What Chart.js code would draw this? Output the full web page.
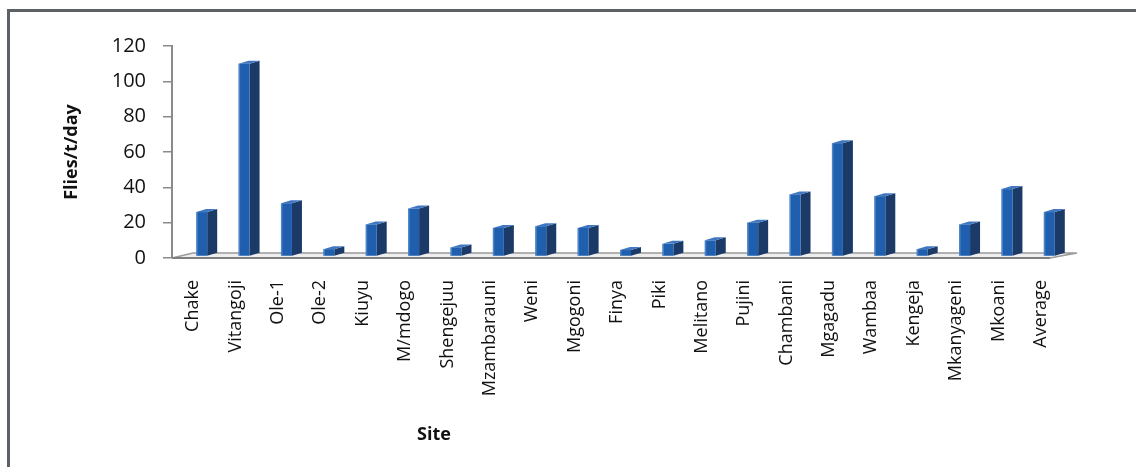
<!DOCTYPE html>
<html>
<head>
<meta charset="utf-8">
<script src="https://cdn.jsdelivr.net/npm/chart.js@4.4.1/dist/chart.umd.min.js"></script>
<style>
  html, body { margin: 0; padding: 0; background: #ffffff; }
  #wrap { position: relative; width: 1136px; height: 467px; overflow: hidden; }
  #frame { position: absolute; left: 7px; top: 9px; width: 1200px; height: 500px;
           border-left: 3px solid #5c6166; border-top: 3px solid #5c6166; box-sizing: border-box; }
  #c { position: absolute; left: 0; top: 0; }
</style>
</head>
<body>
<div id="wrap">
  <div id="frame"></div>
  <canvas id="c" width="1136" height="467"></canvas>
</div>
<script>
const sites = ["Chake","Vitangoji","Ole-1","Ole-2","Kiuyu","M/mdogo","Shengejuu","Mzambarauni","Weni","Mgogoni","Finya","Piki","Melitano","Pujini","Chambani","Mgagadu","Wambaa","Kengeja","Mkanyageni","Mkoani","Average"];
const fliesPerTrapDay = [26,110,31,5,19,28,6,17,18,17,4.5,8,10,20,36,65,35,5,19,39,26];
const yTicks = [0,20,40,60,80,100,120];
const yAxisTitle = "Flies/t/day";
const xAxisTitle = "Site";

const FONT = "'Open Sans', 'DejaVu Sans', sans-serif";

const floorPlugin = {
  id: 'floor',
  beforeDatasetsDraw(chart) {
    const ctx = chart.ctx, a = chart.chartArea;
    const yb = chart.scales.y.getPixelForValue(0);
    ctx.save();
    ctx.beginPath();
    ctx.moveTo(a.left, yb);
    ctx.lineTo(a.right - 12, yb);
    ctx.lineTo(a.right + 15, yb - 5);
    ctx.lineTo(a.left + 21, yb - 5);
    ctx.closePath();
    ctx.fillStyle = '#eeeeee';
    ctx.fill();
    ctx.strokeStyle = '#9b9b9b';
    ctx.lineWidth = 1.5;
    ctx.beginPath();
    ctx.moveTo(a.left, yb); ctx.lineTo(a.left + 21, yb - 5); ctx.lineTo(a.right + 15, yb - 5); ctx.lineTo(a.right - 12, yb);
    ctx.stroke();
    ctx.strokeStyle = '#808080';
    ctx.lineWidth = 2;
    ctx.beginPath();
    ctx.moveTo(a.left, yb); ctx.lineTo(a.right - 12, yb);
    ctx.stroke();
    ctx.restore();
  }
};

const bars3dPlugin = {
  id: 'bars3d',
  afterDatasetsDraw(chart) {
    const ctx = chart.ctx;
    const meta = chart.getDatasetMeta(0);
    const w = 11, dx = 10, dy = 3;
    ctx.save();
    meta.data.forEach(el => {
      const x0 = el.x + 3;
      const top = el.y;
      const bot = el.base - 1.5;
      ctx.fillStyle = '#1b3a67';
      ctx.beginPath();
      ctx.moveTo(x0 + w, top);
      ctx.lineTo(x0 + w + dx, top - dy);
      ctx.lineTo(x0 + w + dx, bot - dy);
      ctx.lineTo(x0 + w, bot);
      ctx.closePath();
      ctx.fill();
      ctx.fillStyle = '#3f78c0';
      ctx.beginPath();
      ctx.moveTo(x0, top);
      ctx.lineTo(x0 + dx, top - dy);
      ctx.lineTo(x0 + w + dx, top - dy);
      ctx.lineTo(x0 + w, top);
      ctx.closePath();
      ctx.fill();
      ctx.fillStyle = '#1f5fae';
      ctx.fillRect(x0, top, w, bot - top);
      ctx.fillStyle = 'rgba(120,170,230,0.5)';
      ctx.fillRect(x0, top, 1.5, bot - top);
    });
    ctx.restore();
  }
};

const siteTitlePlugin = {
  id: 'siteTitle',
  afterDraw(chart) {
    const ctx = chart.ctx;
    ctx.save();
    ctx.font = "bold 18px " + FONT;
    ctx.fillStyle = '#111111';
    ctx.textAlign = 'center';
    ctx.textBaseline = 'middle';
    ctx.fillText(xAxisTitle, 434, 435);
    ctx.restore();
  }
};

new Chart(document.getElementById('c'), {
  type: 'bar',
  data: {
    labels: sites,
    datasets: [{
      data: fliesPerTrapDay,
      backgroundColor: 'rgba(0,0,0,0)',
      borderWidth: 0
    }]
  },
  options: {
    responsive: false,
    animation: false,
    devicePixelRatio: 1,
    layout: { padding: { top: 46, right: 74, left: 0, bottom: 0 } },
    plugins: { legend: { display: false }, tooltip: { enabled: false } },
    scales: {
      x: {
        grid: { display: false, drawTicks: false },
        border: { display: false },
        ticks: {
          maxRotation: 90, minRotation: 90, padding: 22, autoSkip: false,
          color: '#111111', font: { family: FONT, size: 18 }
        },
        afterFit(scale) { scale.height = 209; }
      },
      y: {
        min: 0, max: 120,
        afterBuildTicks(scale) { scale.ticks = yTicks.map(v => ({ value: v })); },
        grid: { drawOnChartArea: false, drawTicks: true, tickLength: 9, color: '#8a8a8a', lineWidth: 1.5 },
        border: { display: true, color: '#8a8a8a', width: 2 },
        ticks: { padding: 17, color: '#111111', font: { family: FONT, size: 20 } },
        title: {
          display: true, text: yAxisTitle, color: '#111111',
          font: { family: FONT, size: 18, weight: 'bold' },
          padding: { top: 61, bottom: 0 }
        },
        afterFit(scale) { scale.width = 172; }
      }
    }
  },
  plugins: [floorPlugin, bars3dPlugin, siteTitlePlugin]
});
</script>
</body>
</html>
